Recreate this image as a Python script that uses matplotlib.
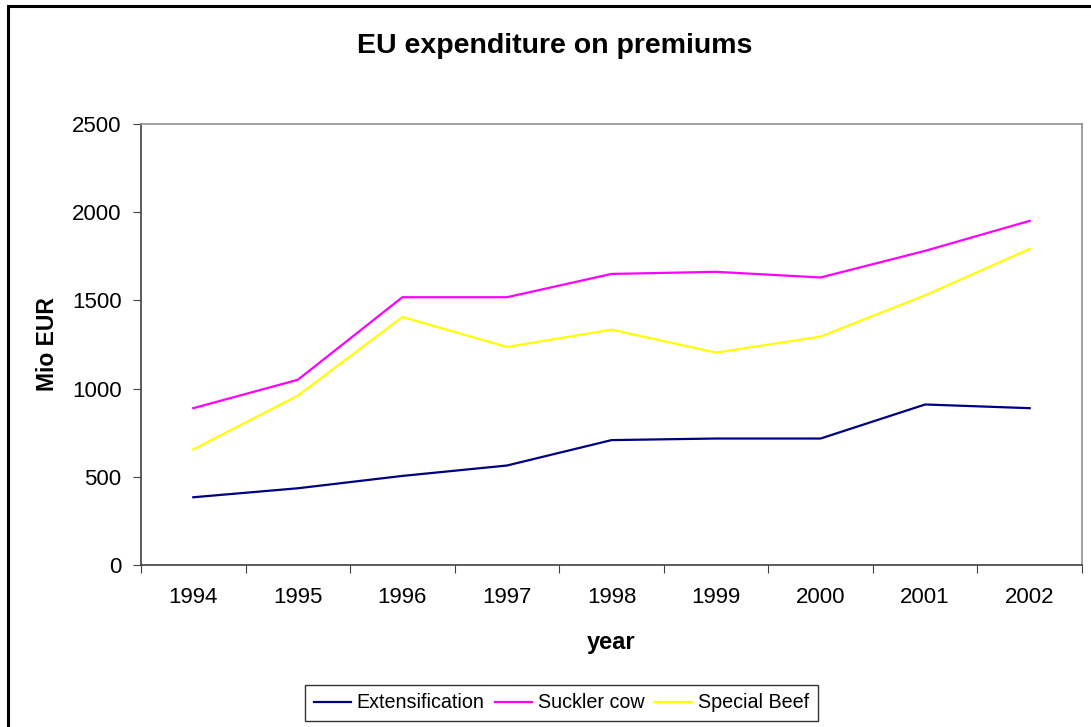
import matplotlib.pyplot as plt
from matplotlib.patches import Rectangle
import numpy as np

plt.rcParams['font.family'] = ['Liberation Sans', 'DejaVu Sans']

# data (Mio EUR)
years = ['1994', '1995', '1996', '1997', '1998', '1999', '2000', '2001', '2002']
extensification = [384, 435, 505, 564, 708, 717, 717, 910, 889]
suckler_cow = [889, 1050, 1518, 1518, 1650, 1662, 1630, 1781, 1951]
special_beef = [655, 960, 1406, 1236, 1334, 1204, 1295, 1529, 1792]

W, H = 1091, 727
fig = plt.figure(figsize=(W / 100, H / 100), dpi=100)
ax = fig.add_axes([141 / W, 1 - 565 / H, 941 / W, 441 / H])

# outer chart frame (cut off at right and bottom in the original)
fig.patches.append(Rectangle((8 / W, -0.05), 1.2, 1 - 6 / H + 0.05,
                             transform=fig.transFigure, fill=False,
                             edgecolor='black', linewidth=2.2, zorder=0))

x = np.arange(len(years))
ax.plot(x, extensification, color='#000080', lw=1.6, label='Extensification')
ax.plot(x, suckler_cow, color='#FF00FF', lw=1.6, label='Suckler cow')
ax.plot(x, special_beef, color='#FFFF00', lw=1.6, label='Special Beef')

ax.set_xlim(-0.5, len(years) - 0.5)
ax.set_ylim(0, 2500)
ax.set_yticks(np.arange(0, 2501, 500))

# category axis: ticks between categories, labels in the middle
ax.set_xticks(np.arange(-0.5, len(years)), minor=False)
ax.set_xticklabels([])
ax.set_xticks(x, minor=True)
ax.set_xticklabels(years, minor=True)
ax.tick_params(axis='x', which='minor', length=0, pad=16, labelsize=16)
ax.tick_params(axis='x', which='major', direction='out', length=6, color='#404040')
ax.tick_params(axis='y', direction='out', length=6, color='#404040', labelsize=16, pad=8)

for side in ['left', 'bottom']:
    ax.spines[side].set_color('#404040')
    ax.spines[side].set_linewidth(1.2)
for side in ['top', 'right']:
    ax.spines[side].set_color('#909090')
    ax.spines[side].set_linewidth(1.2)

fig.text(611 / W, 1 - 642 / H, 'year', ha='center', va='center',
         fontsize=17, fontweight='bold')
fig.text(48 / W, 1 - 344.5 / H, 'Mio EUR', ha='center', va='center',
         rotation=90, fontsize=16.5, fontweight='bold')
fig.text(555 / W, 1 - 46 / H, 'EU expenditure on premiums', ha='center',
         va='center', fontsize=20.5, fontweight='bold')

handles, labels = ax.get_legend_handles_labels()
leg = fig.legend(handles, labels, loc='center',
                 bbox_to_anchor=(561.5 / W, 1 - 703 / H), ncol=3, fontsize=14.2,
                 frameon=True, fancybox=False, edgecolor='black',
                 handlelength=1.85, handletextpad=0.3, columnspacing=0.55,
                 borderpad=0.45, borderaxespad=0)
leg.get_frame().set_linewidth(1.0)

fig.savefig('out.png', dpi=100)
